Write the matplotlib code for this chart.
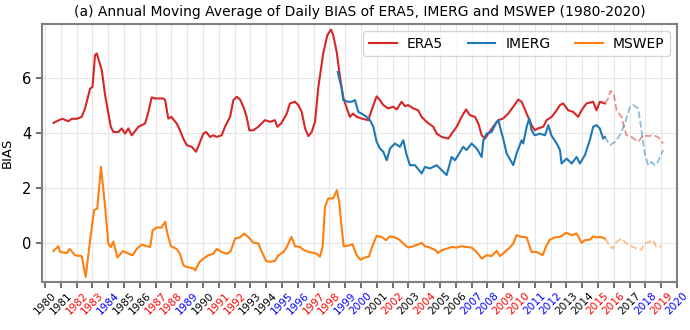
import matplotlib
matplotlib.use("Agg")
import matplotlib.pyplot as plt
import numpy as np

# ---------------- data ----------------
era5_t = [1980.53, 1980.95, 1981.1, 1981.47, 1981.69, 1982.0, 1982.32, 1982.53, 1982.85, 1983.0,
          1983.16, 1983.27, 1983.59, 1983.8, 1984.16, 1984.32, 1984.64, 1984.85, 1985.06, 1985.27,
          1985.49, 1985.91, 1986.33, 1986.54, 1986.75, 1986.96, 1987.49, 1987.6, 1987.8, 1988.0,
          1988.33, 1988.54, 1988.75, 1988.97, 1989.28, 1989.56, 1989.77, 1990.02, 1990.2, 1990.44,
          1990.65, 1990.86, 1991.18, 1991.39, 1991.71, 1991.92, 1992.13, 1992.34, 1992.59, 1992.76,
          1992.93, 1993.18, 1993.5, 1993.92, 1994.24, 1994.55, 1994.7, 1994.95, 1995.3, 1995.5,
          1995.82, 1996.03, 1996.25, 1996.46, 1996.67, 1996.88, 1997.09, 1997.3, 1997.61, 1997.87,
          1998.1, 1998.24, 1998.46, 1998.67, 1998.88, 1999.1, 1999.3, 1999.5, 1999.73, 2000.04,
          2000.46, 2000.67, 2000.99, 2001.2, 2001.41, 2001.73, 2002.04, 2002.26, 2002.57, 2002.78,
          2002.99, 2003.31, 2003.62, 2003.84, 2004.15, 2004.58, 2004.79, 2005.11, 2005.53, 2005.74,
          2006.06, 2006.37, 2006.65, 2006.9, 2007.22, 2007.43, 2007.64, 2007.85, 2008.06, 2008.37,
          2008.69, 2009.0, 2009.32, 2009.64, 2009.96, 2010.17, 2010.38, 2010.59, 2010.8, 2011.01,
          2011.2, 2011.54, 2011.75, 2012.07, 2012.39, 2012.6, 2012.8, 2013.12, 2013.44, 2013.75,
          2013.96, 2014.28, 2014.7, 2014.91, 2015.12, 2015.44]
era5_v = [4.37, 4.49, 4.52, 4.43, 4.52, 4.52, 4.59, 4.9, 5.62, 5.68,
          6.84, 6.9, 6.29, 5.38, 4.23, 4.04, 4.04, 4.17, 3.98, 4.17,
          3.92, 4.23, 4.35, 4.77, 5.3, 5.26, 5.26, 5.2, 4.53, 4.59,
          4.35, 4.1, 3.8, 3.56, 3.5, 3.32, 3.62, 3.98, 4.04, 3.86,
          3.92, 3.86, 3.92, 4.23, 4.59, 5.2, 5.32, 5.23, 4.9, 4.59,
          4.1, 4.1, 4.23, 4.47, 4.41, 4.47, 4.23, 4.35, 4.71, 5.08,
          5.14, 5.02, 4.77, 4.17, 3.89, 4.04, 4.41, 5.68, 6.9, 7.57,
          7.77, 7.57, 6.96, 6.05, 5.29, 4.9, 4.59, 4.71, 4.59, 4.53,
          4.47, 4.83, 5.34, 5.2, 5.02, 4.9, 4.96, 4.86, 5.14, 4.98,
          5.02, 4.9, 4.83, 4.59, 4.41, 4.23, 3.98, 3.86, 3.8, 3.98,
          4.23, 4.59, 4.86, 4.65, 4.59, 4.35, 3.92, 3.8, 3.98, 4.23,
          4.47, 4.53, 4.71, 4.96, 5.22, 5.14, 4.86, 4.59, 4.29, 4.1,
          4.17, 4.23, 4.47, 4.59, 4.83, 5.02, 5.08, 4.83, 4.77, 4.59,
          4.83, 5.08, 5.14, 4.83, 5.14, 5.08]
era5_dt = [2015.44, 2015.65, 2015.8, 2016.0, 2016.18, 2016.5, 2016.6, 2016.81, 2017.13, 2017.55,
           2017.87, 2018.18, 2018.5, 2018.8, 2019.13]
era5_dv = [5.08, 5.26, 5.54, 5.44, 4.83, 4.59, 4.35, 3.92, 3.86, 3.68,
           3.92, 3.89, 3.92, 3.86, 3.62]

imerg_t = [1998.53, 1998.67, 1998.76, 1998.88, 1999.2, 1999.4, 1999.62, 1999.83, 2000.04, 2000.36,
           2000.57, 2000.78, 2000.99, 2001.2, 2001.41, 2001.63, 2001.84, 2002.15, 2002.47, 2002.68,
           2002.89, 2003.1, 2003.42, 2003.84, 2004.05, 2004.36, 2004.79, 2005.11, 2005.42, 2005.74,
           2005.95, 2006.16, 2006.47, 2006.68, 2007.0, 2007.32, 2007.64, 2007.75, 2007.95, 2008.27,
           2008.59, 2008.7, 2008.8, 2009.0, 2009.22, 2009.64, 2009.85, 2010.17, 2010.27, 2010.49,
           2010.65, 2010.8, 2011.0, 2011.33, 2011.65, 2011.86, 2012.05, 2012.39, 2012.6, 2012.7,
           2013.02, 2013.34, 2013.65, 2013.86, 2014.18, 2014.5, 2014.7, 2014.91, 2015.12, 2015.33,
           2015.44]
imerg_v = [6.23, 5.87, 5.68, 5.2, 5.14, 5.14, 5.2, 4.77, 4.71, 4.59,
           4.47, 4.23, 3.68, 3.44, 3.32, 3.01, 3.44, 3.62, 3.5, 3.74,
           3.2, 2.83, 2.83, 2.53, 2.77, 2.71, 2.83, 2.65, 2.47, 3.13,
           3.01, 3.2, 3.5, 3.38, 3.62, 3.44, 3.13, 3.74, 3.98, 4.04,
           4.41, 4.47, 4.23, 3.8, 3.26, 2.83, 3.26, 3.74, 3.62, 4.23,
           4.53, 4.1, 3.92, 3.98, 3.92, 4.29, 3.92, 3.62, 3.38, 2.89,
           3.07, 2.89, 3.13, 2.89, 3.2, 3.77, 4.23, 4.29, 4.17, 3.8,
           3.86]
imerg_dt = [2015.44, 2015.76, 2016.08, 2016.39, 2016.71, 2017.03, 2017.24, 2017.55, 2017.76, 2017.97,
            2018.18, 2018.4, 2018.6, 2018.8, 2019.13]
imerg_dv = [3.86, 3.56, 3.68, 3.92, 4.35, 4.96, 5.02, 4.9, 4.1, 3.25,
            2.83, 2.95, 2.83, 2.95, 3.38]

mswep_t = [1980.53, 1980.84, 1980.95, 1981.37, 1981.55, 1981.9, 1982.32, 1982.57, 1982.85, 1983.1,
           1983.3, 1983.54, 1983.8, 1984.0, 1984.16, 1984.32, 1984.58, 1984.93, 1985.2, 1985.55,
           1985.8, 1986.12, 1986.44, 1986.65, 1986.81, 1987.05, 1987.37, 1987.6, 1987.72, 1987.96,
           1988.33, 1988.54, 1988.75, 1988.92, 1989.39, 1989.5, 1989.77, 1990.02, 1990.34, 1990.65,
           1990.86, 1991.18, 1991.5, 1991.75, 1992.03, 1992.34, 1992.59, 1992.86, 1993.18, 1993.5,
           1993.7, 1993.99, 1994.24, 1994.55, 1994.77, 1995.1, 1995.3, 1995.6, 1995.82, 1996.14,
           1996.35, 1996.67, 1996.9, 1997.2, 1997.4, 1997.57, 1997.72, 1997.93, 1998.24, 1998.47,
           1998.62, 1998.77, 1998.9, 1999.2, 1999.46, 1999.73, 1999.96, 2000.25, 2000.5, 2000.74,
           2000.99, 2001.3, 2001.58, 2001.84, 2002.15, 2002.47, 2002.72, 2002.99, 2003.31, 2003.62,
           2003.84, 2004.05, 2004.36, 2004.74, 2004.85, 2005.11, 2005.42, 2005.74, 2006.06, 2006.37,
           2006.68, 2007.0, 2007.32, 2007.64, 2007.95, 2008.27, 2008.59, 2008.8, 2009.1, 2009.43,
           2009.64, 2009.85, 2010.17, 2010.49, 2010.8, 2011.12, 2011.5, 2011.75, 2011.96, 2012.28,
           2012.6, 2013.02, 2013.34, 2013.65, 2013.97, 2014.18, 2014.5, 2014.7, 2014.91, 2015.12,
           2015.44]
mswep_v = [-0.3, -0.12, -0.33, -0.37, -0.22, -0.45, -0.48, -1.24, 0.1, 1.19,
           1.25, 2.77, 1.31, -0.02, -0.16, 0.05, -0.53, -0.3, -0.37, -0.45,
           -0.22, -0.06, -0.12, -0.15, 0.46, 0.56, 0.56, 0.77, 0.4, -0.12,
           -0.22, -0.4, -0.81, -0.87, -0.93, -1.0, -0.7, -0.57, -0.45, -0.4,
           -0.22, -0.33, -0.4, -0.3, 0.16, 0.2, 0.34, 0.22, 0.01, -0.02,
           -0.3, -0.66, -0.69, -0.66, -0.45, -0.33, -0.15, 0.22, -0.12, -0.15,
           -0.25, -0.33, -0.35, -0.4, -0.5, -0.15, 1.31, 1.62, 1.62, 1.92,
           1.5, 0.58, -0.12, -0.1, -0.05, -0.45, -0.61, -0.53, -0.5, -0.09,
           0.26, 0.22, 0.1, 0.24, 0.2, 0.1, -0.05, -0.17, -0.12, -0.06,
           0.0, -0.12, -0.17, -0.27, -0.37, -0.27, -0.21, -0.15, -0.17, -0.12,
           -0.15, -0.17, -0.33, -0.57, -0.45, -0.48, -0.29, -0.48, -0.33, -0.17,
           -0.02, 0.28, 0.22, 0.2, -0.33, -0.33, -0.45, -0.09, 0.12, 0.2,
           0.22, 0.37, 0.28, 0.34, 0.0, 0.1, 0.12, 0.24, 0.2, 0.22,
           0.16]
mswep_dt = [2015.44, 2015.65, 2015.93, 2016.18, 2016.5, 2016.81, 2017.13, 2017.45, 2017.76, 2017.97,
            2018.28, 2018.5, 2018.7, 2019.02]
mswep_dv = [0.16, -0.02, -0.21, 0.04, 0.16, -0.02, -0.12, -0.21, -0.25, -0.02,
            0.04, 0.1, -0.15, -0.12]

years = list(range(1980, 2021))
year_colors = {
    1980: 'black', 1981: 'black', 1982: 'red', 1983: 'red', 1984: 'blue', 1985: 'black',
    1986: 'black', 1987: 'red', 1988: 'red', 1989: 'blue', 1990: 'black', 1991: 'red',
    1992: 'red', 1993: 'black', 1994: 'black', 1995: 'blue', 1996: 'blue', 1997: 'red',
    1998: 'red', 1999: 'blue', 2000: 'blue', 2001: 'black', 2002: 'red', 2003: 'black',
    2004: 'red', 2005: 'black', 2006: 'black', 2007: 'blue', 2008: 'blue', 2009: 'red',
    2010: 'red', 2011: 'blue', 2012: 'blue', 2013: 'black', 2014: 'black', 2015: 'red',
    2016: 'red', 2017: 'black', 2018: 'blue', 2019: 'red', 2020: 'blue'}

title = "(a) Annual Moving Average of Daily BIAS of ERA5, IMERG and MSWEP (1980-2020)"

# ---------------- plot ----------------
c_era5, c_imerg, c_mswep = '#d62728', '#1f77b4', '#ff7f0e'

fig = plt.figure(figsize=(6.9, 3.3), dpi=100)
ax = fig.add_axes([0.061, 0.145, 0.92, 0.782])

ax.plot(era5_t, era5_v, color=c_era5, lw=1.5, label='ERA5')
ax.plot(imerg_t, imerg_v, color=c_imerg, lw=1.5, label='IMERG')
ax.plot(mswep_t, mswep_v, color=c_mswep, lw=1.5, label='MSWEP')
ax.plot(era5_dt, era5_dv, color=c_era5, lw=1.3, ls='--', alpha=0.5)
ax.plot(imerg_dt, imerg_dv, color=c_imerg, lw=1.3, ls='--', alpha=0.5)
ax.plot(mswep_dt, mswep_dv, color=c_mswep, lw=1.3, ls='--', alpha=0.5)

ax.set_xlim(1979.81, 2020.0)
ax.set_ylim(-1.43, 7.97)
ax.set_xticks(years)
ax.set_xticklabels([str(y) for y in years], rotation=45, fontsize=7.6)
for lab, y in zip(ax.get_xticklabels(), years):
    lab.set_color(year_colors[y])
ax.set_yticks([0, 2, 4, 6])
ax.tick_params(axis='y', labelsize=10.5, color='#555555', length=4, width=1.2)
ax.tick_params(axis='x', color='#555555', length=4, width=1.2, pad=2)
ax.set_ylabel('BIAS', fontsize=9.5, labelpad=6)
ax.set_title(title, fontsize=10)

ax.grid(True, color='#e6e6e6', lw=0.8)
ax.set_axisbelow(True)
for s in ax.spines.values():
    s.set_color('#808080')
    s.set_linewidth(1.5)

ax.legend(loc='upper right', ncol=3, fontsize=10, frameon=True, edgecolor='#cccccc',
          handlelength=2.0, handletextpad=0.7, columnspacing=1.8, borderaxespad=0.5)

fig.savefig('out.png', dpi=100)
